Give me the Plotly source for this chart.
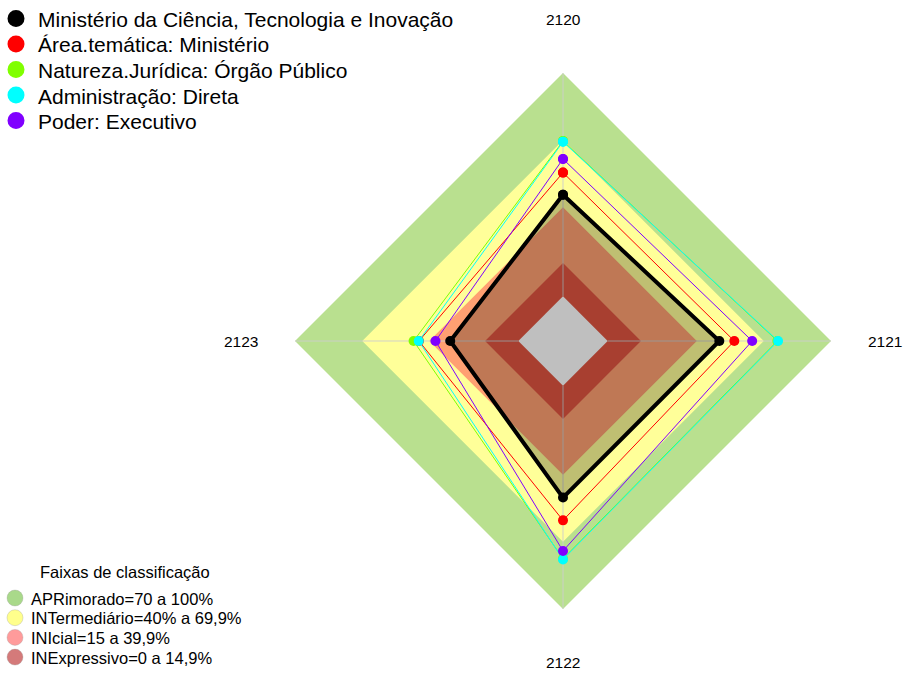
import math
import plotly.graph_objects as go

# ---------------- data ----------------
axes_labels = ["2120", "2121", "2122", "2123"]

series_names = [
    "Ministério da Ciência, Tecnologia e Inovação",
    "Área.temática: Ministério",
    "Natureza.Jurídica: Órgão Público",
    "Administração: Direta",
    "Poder: Executivo",
]
ministerio = [45.5, 50.0, 50.1, 30.5]
area_tematica = [55.4, 56.7, 60.3, 44.5]
natureza_juridica = [69.5, 76.0, 77.5, 46.9]
administracao = [69.2, 76.3, 77.8, 44.6]
poder = [61.5, 64.7, 74.0, 37.1]
series_values = [ministerio, area_tematica, natureza_juridica, administracao, poder]
series_colors = ["#000000", "#FF0000", "#80FF00", "#00FFFF", "#8000FF"]

band_title = "Faixas de classificação"
band_names = [
    "APRimorado=70 a 100%",
    "INTermediário=40% a 69,9%",
    "INIcial=15 a 39,9%",
    "INExpressivo=0 a 14,9%",
]
band_upper = [100, 69.9, 39.9, 14.9]
band_fill_colors = ["#B9E08F", "#FFFF99", "#FFA072", "#E05540"]
band_legend_colors = ["#A9D98A", "#FFFF8C", "#FF9B9B", "#D47A7A"]

# ---------------- layout geometry (page pixels) ----------------
W, H = 905, 675
cx, cy, R = 563, 341, 268

FONT = "Liberation Sans, Arial, sans-serif"


def px_x(p):
    return p / W


def px_y(p):
    return 1 - p / H


def closed(vals):
    return list(vals) + [vals[0]]


theta_closed = closed(axes_labels)

fig = go.Figure()

# classification bands (stacked, opaque)
for up, col in zip(band_upper, band_fill_colors):
    fig.add_trace(go.Scatterpolar(
        r=closed([up] * len(axes_labels)), theta=theta_closed,
        mode="lines", line=dict(width=0, color=col), fill="toself",
        fillcolor=col, showlegend=False, hoverinfo="skip"))
# white centre (value 0)
fig.add_trace(go.Scatterpolar(
    r=closed([0] * len(axes_labels)), theta=theta_closed,
    mode="lines", line=dict(width=0, color="white"), fill="toself",
    fillcolor="white", showlegend=False, hoverinfo="skip"))

# spokes
for lab in axes_labels:
    fig.add_trace(go.Scatterpolar(
        r=[0, 100], theta=[lab, lab], mode="lines",
        line=dict(color="rgba(205,205,205,0.9)", width=1),
        showlegend=False, hoverinfo="skip"))

# data series
for i, (name, vals, col) in enumerate(zip(series_names, series_values, series_colors)):
    fig.add_trace(go.Scatterpolar(
        r=closed(vals), theta=theta_closed, mode="lines+markers",
        line=dict(color=col, width=4 if i == 0 else 1),
        marker=dict(color=col, size=10),
        fill="toself" if i == 0 else "none",
        fillcolor="rgba(0,0,0,0.25)" if i == 0 else None,
        name=name, showlegend=False))

annotations = []
shapes = []

# axis labels at 1.2 R
for k, lab in enumerate(axes_labels):
    ang = math.pi / 2 - k * 2 * math.pi / len(axes_labels)
    x = cx + 1.2 * R * math.cos(ang)
    y = cy - 1.2 * R * math.sin(ang)
    annotations.append(dict(x=px_x(x), y=px_y(y), xref="paper", yref="paper",
                            text=lab, showarrow=False, xanchor="center", yanchor="middle",
                            font=dict(size=15.5, color="black", family=FONT)))

# top legend (series)
top_y0, top_dy = 18.5, 25.5
for i, (name, col) in enumerate(zip(series_names, series_colors)):
    y = top_y0 + i * top_dy
    shapes.append(dict(type="circle", xref="paper", yref="paper",
                       xsizemode="pixel", ysizemode="pixel",
                       xanchor=px_x(16), yanchor=px_y(y),
                       x0=-8.5, x1=8.5, y0=-8.5, y1=8.5,
                       fillcolor=col, line=dict(width=0)))
    annotations.append(dict(x=px_x(35.5), y=px_y(y + 1), xref="paper", yref="paper",
                            text=name, showarrow=False, xanchor="left", yanchor="middle",
                            font=dict(size=21, color="black", family=FONT)))

# bottom legend (bands)
annotations.append(dict(x=px_x(124.5), y=px_y(571.5), xref="paper", yref="paper",
                        text=band_title, showarrow=False, xanchor="center", yanchor="middle",
                        font=dict(size=16.5, color="black", family=FONT)))
bot_y0, bot_dy = 598, 19.7
for i, (name, col) in enumerate(zip(band_names, band_legend_colors)):
    y = bot_y0 + i * bot_dy
    shapes.append(dict(type="circle", xref="paper", yref="paper",
                       xsizemode="pixel", ysizemode="pixel",
                       xanchor=px_x(15), yanchor=px_y(y),
                       x0=-8, x1=8, y0=-8, y1=8,
                       fillcolor=col, line=dict(width=0.6, color="rgba(150,150,150,0.5)")))
    annotations.append(dict(x=px_x(28.5), y=px_y(y + 0.5), xref="paper", yref="paper",
                            text=name, showarrow=False, xanchor="left", yanchor="middle",
                            font=dict(size=16.5, color="black", family=FONT)))

fig.update_layout(
    width=W, height=H,
    margin=dict(l=0, r=0, t=0, b=0),
    paper_bgcolor="white", plot_bgcolor="white",
    font=dict(family=FONT, color="black"),
    polar=dict(
        domain=dict(x=[(cx - R) / W, (cx + R) / W],
                    y=[(H - cy - R) / H, (H - cy + R) / H]),
        bgcolor="white",
        angularaxis=dict(type="category", categoryarray=axes_labels,
                         direction="clockwise", rotation=90,
                         showgrid=False, showline=False,
                         showticklabels=False, ticks=""),
        radialaxis=dict(range=[-20, 100], visible=False, showgrid=False),
    ),
    annotations=annotations,
    shapes=shapes,
    showlegend=False,
)

fig.write_html(
    "out.html",
    config={"displayModeBar": False},
    post_script="document.body.style.margin='0px';document.body.style.overflow='hidden';",
)
